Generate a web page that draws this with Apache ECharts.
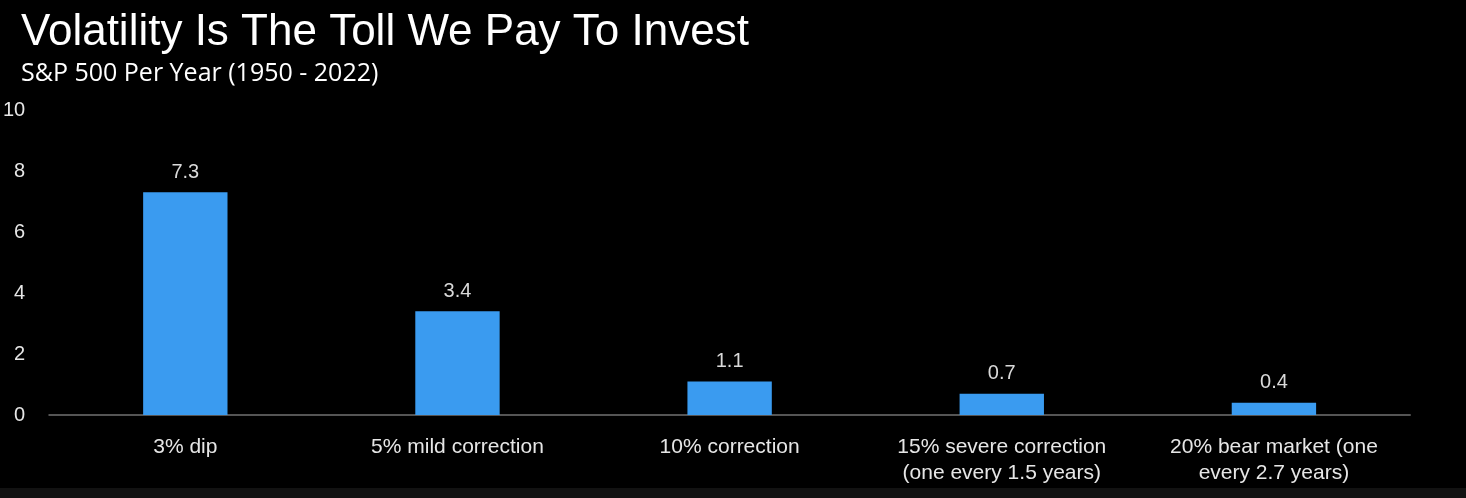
<!DOCTYPE html>
<html>
<head>
<meta charset="utf-8">
<script src="https://cdn.jsdelivr.net/npm/echarts@6/dist/echarts.min.js"></script>
<style>
html,body{margin:0;padding:0;background:#000;}
#c{width:1466px;height:498px;}
</style>
</head>
<body>
<div id="c"></div>
<script>
const categories = ["3% dip", "5% mild correction", "10% correction", "15% severe correction\n(one every 1.5 years)", "20% bear market (one\nevery 2.7 years)"];
const values = [7.3, 3.4, 1.1, 0.7, 0.4];
const titleText = "Volatility Is The Toll We Pay To Invest";
const subtitleText = "S&P 500 Per Year (1950 - 2022)";

const chart = echarts.init(document.getElementById('c'));
chart.setOption({
  backgroundColor: '#000',
  animation: false,
  title: {
    text: titleText,
    subtext: subtitleText,
    left: 16, top: 6,
    itemGap: 6,
    textStyle: {color: '#fff', fontFamily: 'Liberation Sans', fontWeight: 'normal', fontSize: 44},
    subtextStyle: {color: '#fff', fontFamily: 'Open Sans', fontSize: 25}
  },
  graphic: [{type: 'rect', shape: {x: 0, y: 488, width: 1466, height: 10}, style: {fill: '#121212'}, silent: true}],
  grid: {left: 46, right: 56, top: 110, bottom: 83},
  xAxis: {
    type: 'category', data: categories,
    axisLine: {lineStyle: {color: '#555', width: 2}},
    axisTick: {show: false},
    axisLabel: {color: '#e6e6e6', fontFamily: 'Liberation Sans', fontSize: 21, margin: 19, lineHeight: 26, interval: 0}
  },
  yAxis: {
    type: 'value', min: 0, max: 10, interval: 2,
    splitLine: {show: false},
    axisLine: {show: false}, axisTick: {show: false},
    axisLabel: {color: '#e6e6e6', fontFamily: 'Liberation Sans', fontSize: 20, margin: 24}
  },
  series: [{
    type: 'bar', data: values, barWidth: '31%',
    itemStyle: {color: '#3a9bf0'},
    label: {show: true, position: 'top', distance: 10, color: '#d9d9d9', fontFamily: 'Liberation Sans', fontSize: 20}
  }]
});
</script>
</body>
</html>
